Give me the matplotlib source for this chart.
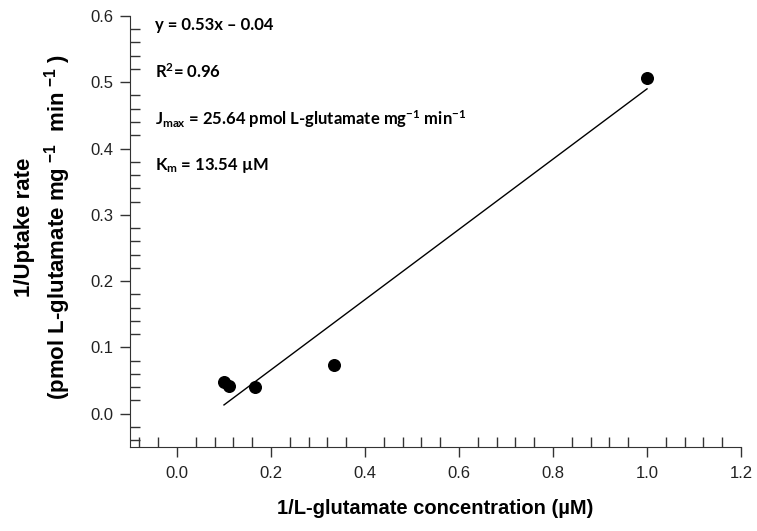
import numpy as np
import matplotlib.pyplot as plt
from matplotlib.ticker import MultipleLocator

# data
inv_conc = [1.0, 0.333, 0.167, 0.111, 0.1]
inv_rate = [0.506, 0.074, 0.040, 0.042, 0.048]
slope, intercept = 0.53, -0.04
fit_x = [0.1, 1.0]
notes = ["y = 0.53x \u2013 0.04",
         "R$^{2}$= 0.96",
         "J$_{\\mathregular{max}}$ = 25.64 pmol L-glutamate mg$^{\\mathregular{-1}}$ min$^{\\mathregular{-1}}$",
         "K$_{\\mathregular{m}}$ = 13.54 \u00b5M"]

plt.rcParams['font.family'] = ['Liberation Sans', 'DejaVu Sans']
plt.rcParams['mathtext.default'] = 'regular'

fig = plt.figure(figsize=(7.57, 5.31), dpi=100)
ax = fig.add_axes([0.1717, 0.1588, 0.8072, 0.8111])

ax.scatter(inv_conc, inv_rate, s=70, color='black', zorder=3)
fx = np.array(fit_x)
ax.plot(fx, slope * fx + intercept, color='black', lw=1)

ax.set_xlim(-0.1, 1.2)
ax.set_ylim(-0.05, 0.6)
ax.xaxis.set_major_locator(MultipleLocator(0.2))
ax.xaxis.set_minor_locator(MultipleLocator(0.04))
ax.yaxis.set_major_locator(MultipleLocator(0.1))
ax.yaxis.set_minor_locator(MultipleLocator(0.02))
ax.xaxis.set_major_formatter(plt.FuncFormatter(lambda v, p: f"{v:.1f}"))
ax.yaxis.set_major_formatter(plt.FuncFormatter(lambda v, p: f"{v:.1f}"))
ax.tick_params(which='major', direction='out', length=7, width=1, labelsize=12,
               colors='#333333', labelcolor='#222222')
ax.tick_params(which='minor', direction='in', length=7, width=1, colors='#333333')
ax.tick_params(axis='x', pad=7)
ax.tick_params(axis='y', pad=5)
for s in ['top', 'right']:
    ax.spines[s].set_visible(False)
for s in ['left', 'bottom']:
    ax.spines[s].set_color('#333333')

ax.set_xlabel("1/L-glutamate concentration (\u00b5M)", fontsize=14.5, fontweight='bold', labelpad=13)
ax.set_ylabel("1/Uptake rate\n(pmol L-glutamate mg$^{\\ \\mathregular{-1}}$  min$^{\\ \\mathregular{-1}}$ )",
              fontsize=16, fontweight='bold', linespacing=1.3)
ax.yaxis.set_label_coords(-0.094, 0.51)

for i, t in enumerate(notes):
    ax.text(0.041, 0.979 - i * 0.109, t, transform=ax.transAxes, fontsize=12,
            fontweight='bold', family=['Lato', 'DejaVu Sans'], va='center')

fig.savefig('out.png', dpi=100)
